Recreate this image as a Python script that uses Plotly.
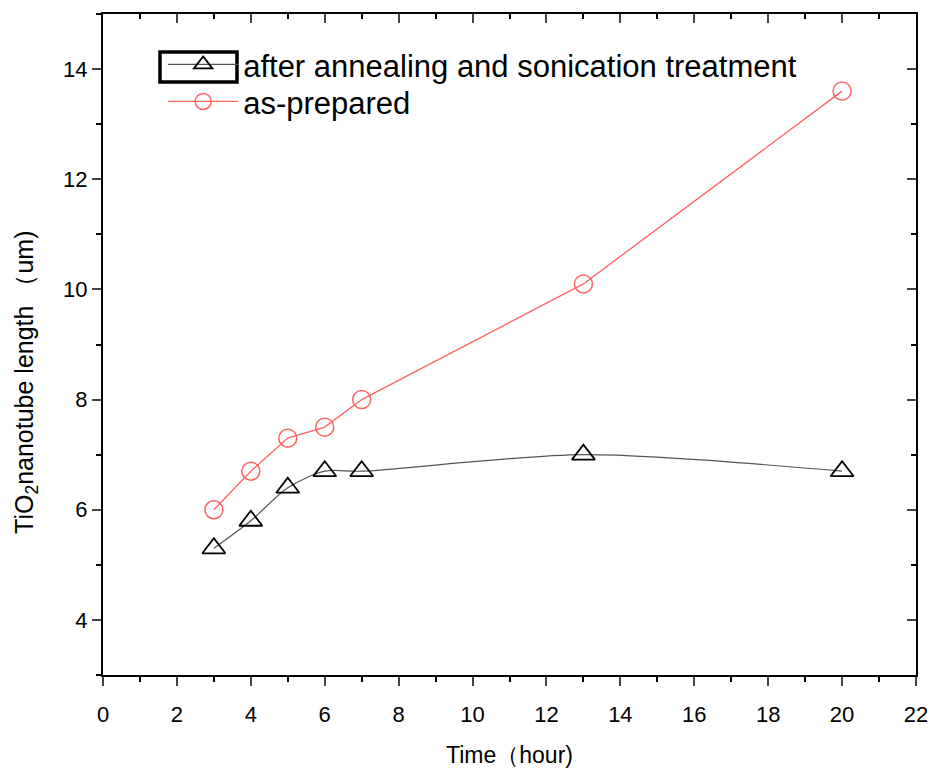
import plotly.graph_objects as go

time_annealed = [3, 4, 5, 6, 7, 13, 20]
len_annealed = [5.3, 5.8, 6.4, 6.7, 6.7, 7.0, 6.7]
time_prepared = [3, 4, 5, 6, 7, 13, 20]
len_prepared = [6.0, 6.7, 7.3, 7.5, 8.0, 10.1, 13.6]

x_range = [0, 22]
y_range = [3, 15]
x_ticks = list(range(0, 23, 2))
y_ticks = [4, 6, 8, 10, 12, 14]

RED = "#ff6262"
FONT = "Liberation Sans, Arial"

fig = go.Figure()
fig.add_trace(go.Scatter(
    x=time_annealed, y=len_annealed, mode="lines+markers",
    name="after annealing and sonication treatment", legend="legend",
    line=dict(color="#555555", width=1.2, shape="spline", smoothing=0.8),
    marker=dict(symbol="triangle-up-open", size=20, color="black", line=dict(width=1.8)),
))
fig.add_trace(go.Scatter(
    x=time_prepared, y=len_prepared, mode="lines+markers",
    name="as-prepared", legend="legend2",
    line=dict(color=RED, width=1.3),
    marker=dict(symbol="circle-open", size=18, color=RED, line=dict(width=1.5)),
))
# invisible trace to activate mirrored (inside-tick) axes
fig.add_trace(go.Scatter(
    x=time_prepared, y=len_prepared, xaxis="x2", yaxis="y2",
    mode="markers", marker=dict(opacity=0), showlegend=False, hoverinfo="skip",
))

leg_common = dict(
    xanchor="left", yanchor="top",
    font=dict(family=FONT, size=31, color="black"),
    bgcolor="rgba(0,0,0,0)", itemwidth=70,
)
tick_font = dict(family=FONT, size=22, color="black")
fig.update_layout(
    width=932, height=770,
    margin=dict(l=103, r=16, t=14, b=95),
    paper_bgcolor="white", plot_bgcolor="white",
    showlegend=True,
    legend=dict(x=0.074, y=0.964, **leg_common),
    legend2=dict(x=0.074, y=0.908, **leg_common),
    xaxis=dict(
        range=x_range, tickvals=x_ticks, ticks="outside", ticklen=9, tickwidth=2,
        showline=True, linecolor="black", linewidth=2, showgrid=False, zeroline=False,
        tickfont=tick_font, ticklabelstandoff=10, automargin=False,
        minor=dict(dtick=1, ticks="outside", ticklen=5, tickwidth=2, tickcolor="black"),
        title=dict(text="Time（hour)", font=dict(family=FONT, size=23, color="black"), standoff=20),
    ),
    yaxis=dict(
        range=y_range, tickvals=y_ticks, ticks="outside", ticklen=9, tickwidth=2,
        showline=True, linecolor="black", linewidth=2, showgrid=False, zeroline=False,
        tickfont=tick_font, automargin=False,
        minor=dict(dtick=1, ticks="outside", ticklen=5, tickwidth=2, tickcolor="black"),
    ),
    xaxis2=dict(
        range=x_range, tickvals=x_ticks, overlaying="x", side="top", anchor="y",
        ticks="inside", ticklen=9, tickwidth=2, showticklabels=False, automargin=False,
        showline=True, linecolor="black", linewidth=2, showgrid=False, zeroline=False,
        minor=dict(dtick=1, ticks="inside", ticklen=5, tickwidth=2, tickcolor="black"),
    ),
    yaxis2=dict(
        range=y_range, tickvals=y_ticks, overlaying="y", side="right", anchor="x",
        ticks="inside", ticklen=9, tickwidth=2, showticklabels=False, automargin=False,
        showline=True, linecolor="black", linewidth=2, showgrid=False, zeroline=False,
        minor=dict(dtick=1, ticks="inside", ticklen=5, tickwidth=2, tickcolor="black"),
    ),
)

# highlight box around the first legend symbol
fig.add_shape(type="rect", xref="paper", yref="paper",
              x0=0.0701, x1=0.1648, y0=0.897, y1=0.9425,
              line=dict(color="black", width=3.5))

fig.add_annotation(
    text="TiO<sub>2</sub>nanotube length （um)", textangle=-90,
    xref="paper", yref="paper", x=-0.095, y=0.443, xanchor="center", yanchor="middle",
    showarrow=False, font=dict(family=FONT, size=25, color="black"),
)

fig.write_html("out.html")
